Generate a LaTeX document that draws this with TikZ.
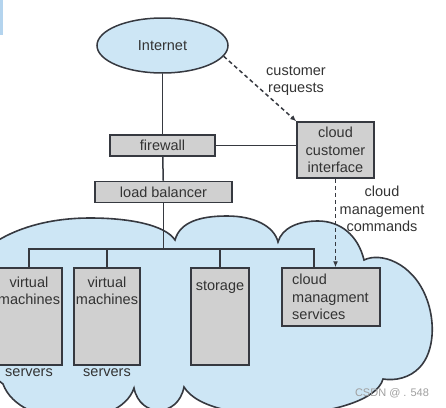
\documentclass[tikz,border=0pt]{standalone}
\usepackage{fontspec}
\setmainfont{Liberation Sans}
\usetikzlibrary{shapes.geometric,arrows.meta}
\definecolor{cloudblue}{HTML}{CDE6F5}
\definecolor{barblue}{HTML}{B4D4EE}
\definecolor{boxgray}{HTML}{D0D0D0}
\definecolor{edgec}{HTML}{363940}
\definecolor{txt}{HTML}{333333}
\begin{document}
\begin{tikzpicture}[x=1pt,y=-1pt,
  font=\fontsize{14.5}{17.5}\selectfont, text=txt,
  box/.style={draw=edgec, fill=boxgray, line width=1.5pt, inner sep=0pt},
  wire/.style={draw=edgec, line width=1.5pt},
  dasharrow/.style={draw=edgec, line width=1.5pt, dash pattern=on 4pt off 3pt, -{Latex[length=6pt,width=5pt]}},
  lbl/.style={align=center, inner sep=0pt}]
\useasboundingbox (0,0) rectangle (446,407);
\begin{scope}
  \clip (0,0) rectangle (446,407);
  \fill[barblue] (0,0) rectangle (3,35);
  \filldraw[fill=cloudblue, draw=edgec, line width=1.6pt]
    (-40,280) .. controls (-20,240) and (30,218) .. (90,218)
    .. controls (130,218) and (165,225) .. (175,240)
    .. controls (180,222) and (200,216) .. (227,216)
    .. controls (254,216) and (274,226) .. (278,242)
    .. controls (282,228) and (298,221) .. (318,221)
    .. controls (340,221) and (358,235) .. (364,260)
    .. controls (380,252) and (412,262) .. (426,297)
    .. controls (436,322) and (434,352) .. (420,367)
    .. controls (410,378) and (395,381) .. (383,379)
    .. controls (372,420) and (210,430) .. (184,387)
    .. controls (178,418) and (140,418) .. (134,388)
    .. controls (120,430) and (20,430) .. (3,384)
    .. controls (-15,370) and (-60,330) .. (-40,280) -- cycle;
\end{scope}

% nodes
\node[ellipse, draw=edgec, fill=cloudblue, line width=1.5pt, minimum width=131pt, minimum height=55pt, inner sep=0pt] (inet) at (162.5,45.5) {Internet};
\node[box, minimum width=105pt, minimum height=21pt] (fw) at (162.5,145.5) {firewall};
\node[box, minimum width=137pt, minimum height=21pt] (lb) at (163.5,192) {load balancer};
\node[box, minimum width=77pt, minimum height=56pt, align=center] (cci) at (335.5,150) {cloud\\customer\\interface};
\node[box, minimum width=66pt, minimum height=97pt] (vm1) at (29,316.5) {};
\node[box, minimum width=66pt, minimum height=97pt] (vm2) at (107,316.5) {};
\node[box, minimum width=58pt, minimum height=97pt] (st) at (220,316.5) {};
\node[box, minimum width=98pt, minimum height=58pt] (cms) at (331,297) {};

\node[lbl] (vm1t) at (29,291) {virtual\\machines};
\node[lbl] (vm2t) at (107,291) {virtual\\machines};
\node[lbl] (stt) at (220,287) {storage};
\node[lbl, align=left, anchor=west] (cmst) at (292,297) {cloud\\managment\\services};
\node[lbl] (srv1) at (29,373) {servers};
\node[lbl] (srv2) at (107,373) {servers};
\node[lbl] (req) at (296,81) {customer\\requests};
\node[lbl] (cmd) at (382,209) {cloud\\management\\commands};
\node[text=gray!75, font=\fontsize{11}{13}\selectfont] (wm) at (392,393) {CSDN @ . 548};

% connectors
\coordinate (busL) at (28,249);
\coordinate (busR) at (314,249);
\draw[wire] (inet) -- (fw);
\draw[wire] (fw) -- (lb);
\draw[wire] (fw.east) -- (fw.east -| cci.west);
\draw[wire] (lb.south) -- (lb.south |- busL);
\draw[wire] (vm1.north) -- (vm1.north |- busL) -- (busR) -- (busR |- cms.north);
\draw[wire] (vm2.north) -- (vm2.north |- busL);
\draw[wire] (st.north) -- (st.north |- busL);
\draw[dasharrow] (inet.-10) -- (cci.north west);
\draw[dasharrow] (cci.south) -- (cms.north -| cci.south);
\end{tikzpicture}
\end{document}
